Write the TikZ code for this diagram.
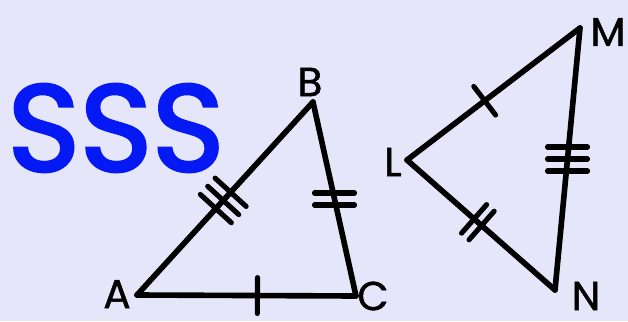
\documentclass[tikz,border=0pt]{standalone}
\usepackage{fontspec}
\setmainfont{Poppins}
\newfontfamily\sssfont[FakeBold=2.5]{Poppins}
\newfontfamily\lblfont[FakeBold=1.2]{Poppins}
\usetikzlibrary{decorations.markings, calc, math}
\definecolor{mylav}{RGB}{230,230,250}
\definecolor{myblue}{RGB}{5,25,245}

\tikzset{
  side/.style={line width=3.2pt, line cap=round, line join=round},
  tickln/.style={line width=2.9pt, line cap=round},
  vlabel/.style={font=\lblfont\fontsize{23}{27}\selectfont, inner sep=0pt},
  onetick/.style={postaction={decorate,decoration={markings,
    mark=at position #1 with {\draw[tickln] (0,-18) -- (0,18);}}}},
  twoticks/.style={postaction={decorate,decoration={markings,
    mark=at position #1 with {\foreach \d in {-5,5} \draw[tickln] (\d,-19) -- (\d,19);}}}},
  threeticks/.style={postaction={decorate,decoration={markings,
    mark=at position #1 with {\foreach \d in {-11,0,11} \draw[tickln] (\d,-21) -- (\d,21);}}}},
}

\begin{document}
\begin{tikzpicture}[x=0.02cm, y=-0.02cm]
\fill[mylav] (0,0) rectangle (628,321);
\useasboundingbox (0,0) rectangle (628,321);

% first triangle
\coordinate (A) at (137,295);
\coordinate (B) at (313,102);
\coordinate (C) at (356,296);
% second triangle
\coordinate (L) at (407,160);
\coordinate (M) at (580,28);
\coordinate (N) at (555,290);

\node[text=myblue, font=\sssfont\fontsize{70}{74}\selectfont, inner sep=0pt] (sss) at (116,128) {SSS};

\draw[side, onetick=0.55] (A) -- (C);
\draw[side, threeticks=0.49] (A) -- (B);
\draw[side] (B) -- (C);
\draw[side] (L) -- (N);
\draw[side, onetick=0.45] (L) -- (M);
\draw[side] (M) -- (N);
\path[twoticks=0.48] (L) -- (N);

% level ticks
\coordinate (bc) at ($(B)!0.5!(C)$);
\foreach \d in {-6,6}
  \draw[tickln] ($(bc)+(-20,\d)$) -- ($(bc)+(20,\d)$);
\coordinate (mn) at ($(M)!0.5!(N)$);
\foreach \d in {-12,0,12}
  \draw[tickln] ($(mn)+(-20,\d)$) -- ($(mn)+(20,\d)$);

\node[vlabel] (lA) at (117,294) {A};
\node[vlabel] (lB) at (310,82) {B};
\node[vlabel] (lC) at (373,296) {C};
\node[vlabel] (lL) at (393,162) {L};
\node[vlabel] (lM) at (608,32) {M};
\node[vlabel] (lN) at (586,296) {N};
\end{tikzpicture}
\end{document}
